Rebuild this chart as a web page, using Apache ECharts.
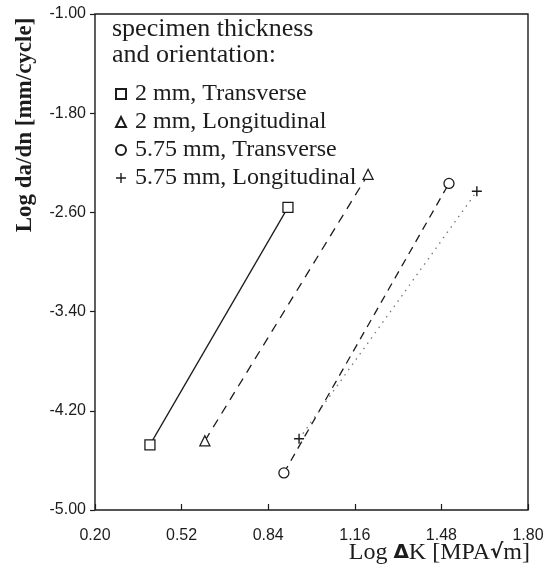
<!DOCTYPE html>
<html>
<head>
<meta charset="utf-8">
<script src="https://cdn.jsdelivr.net/npm/echarts@6/dist/echarts.min.js"></script>
<style>
  html, body { margin: 0; padding: 0; background: #fff; }
  #chart { width: 549px; height: 571px; }
</style>
</head>
<body>
<div id="chart"></div>
<script>
// tick values on both axes
const xTicks = [0.2, 0.52, 0.84, 1.16, 1.48, 1.8];
const yTicks = [-5.0, -4.2, -3.4, -2.6, -1.8, -1.0];

// series names (legend)
const names = ["2 mm, Transverse", "2 mm, Longitudinal", "5.75 mm, Transverse", "5.75 mm, Longitudinal"];

// each series: two end points [log dK, log da/dn]
const sq2T = [[0.403, -4.475], [0.913, -2.56]];
const tri2L = [[0.606, -4.442], [1.209, -2.293]];
const circ575T = [[0.898, -4.701], [1.508, -2.366]];
const plus575L = [[0.954, -4.426], [1.611, -2.43]];

const ink = "#1c1c1c";
const plusPath = "path://M4.3,0H5.7V4.3H10V5.7H5.7V10H4.3V5.7H0V4.3H4.3Z";

function line(name, data, symbol, lineType, lineColor, filled) {
  return {
    name: name,
    type: "line",
    data: data,
    symbol: symbol,
    symbolSize: 10,
    z: 3,
    lineStyle: { color: lineColor, width: 1.3, type: lineType },
    itemStyle: filled
      ? { color: ink, borderWidth: 0 }
      : { color: "#fff", borderColor: ink, borderWidth: 1.3 },
    emphasis: { disabled: true },
  };
}

const chart = echarts.init(document.getElementById("chart"));
chart.setOption({
  backgroundColor: "#fff",
  animation: false,
  grid: {
    left: 95,
    right: 21,
    top: 14,
    bottom: 61,
    show: true,
    borderColor: ink,
    borderWidth: 1.4,
  },
  xAxis: {
    type: "value",
    min: 0.2,
    max: 1.8,
    axisLine: { show: false },
    splitLine: { show: false },
    axisTick: { show: true, inside: true, length: 6, customValues: xTicks, lineStyle: { color: ink, width: 1.2 } },
    axisLabel: {
      customValues: xTicks,
      margin: 18,
      formatter: (v) => v.toFixed(2),
      fontFamily: "Liberation Sans",
      fontSize: 16,
      color: ink,
    },
  },
  yAxis: {
    type: "value",
    min: -5,
    max: -1,
    axisLine: { show: false },
    splitLine: { show: false },
    axisTick: { show: true, inside: false, length: 5, customValues: yTicks, lineStyle: { color: ink, width: 1.2 } },
    axisLabel: {
      customValues: yTicks,
      margin: 9,
      formatter: (v) => v.toFixed(2),
      fontFamily: "Liberation Sans",
      fontSize: 16,
      color: ink,
    },
  },
  legend: {
    orient: "vertical",
    left: 110,
    top: 77,
    itemWidth: 10,
    itemHeight: 10,
    itemGap: 4,
    selectedMode: false,
    textStyle: { fontFamily: "Liberation Serif", fontSize: 24, color: ink, padding: [0, 0, 0, 4] },
    data: [
      { name: names[0], icon: "rect" },
      { name: names[1], icon: "triangle" },
      { name: names[2], icon: "circle" },
      { name: names[3], icon: plusPath },
    ],
  },
  graphic: [
    {
      type: "text",
      left: 112,
      top: 16,
      style: {
        text: "specimen thickness\nand orientation:",
        font: "26px 'Liberation Serif'",
        lineHeight: 26,
        fill: ink,
      },
    },
    {
      type: "text",
      x: 25,
      y: 125,
      rotation: Math.PI / 2,
      style: {
        text: "Log da/dn [mm/cycle]",
        font: "bold 23px 'Liberation Serif'",
        align: "center",
        verticalAlign: "middle",
        fill: ink,
      },
    },
    {
      type: "text",
      x: 530,
      y: 553,
      style: {
        text: "Log {b|Δ}K [MPA{b|√}m]",
        font: "24px 'Liberation Serif'",
        align: "right",
        verticalAlign: "middle",
        fill: ink,
        rich: {
          b: { fontFamily: "DejaVu Sans", fontWeight: "bold", fontSize: 20, fill: ink },
        },
      },
    },
  ],
  series: [
    line(names[0], sq2T, "rect", "solid", ink, false),
    line(names[1], tri2L, "triangle", [9, 7], ink, false),
    line(names[2], circ575T, "circle", [8, 6], ink, false),
    line(names[3], plus575L, plusPath, [1.5, 5], "#777", true),
  ],
});
</script>
</body>
</html>
